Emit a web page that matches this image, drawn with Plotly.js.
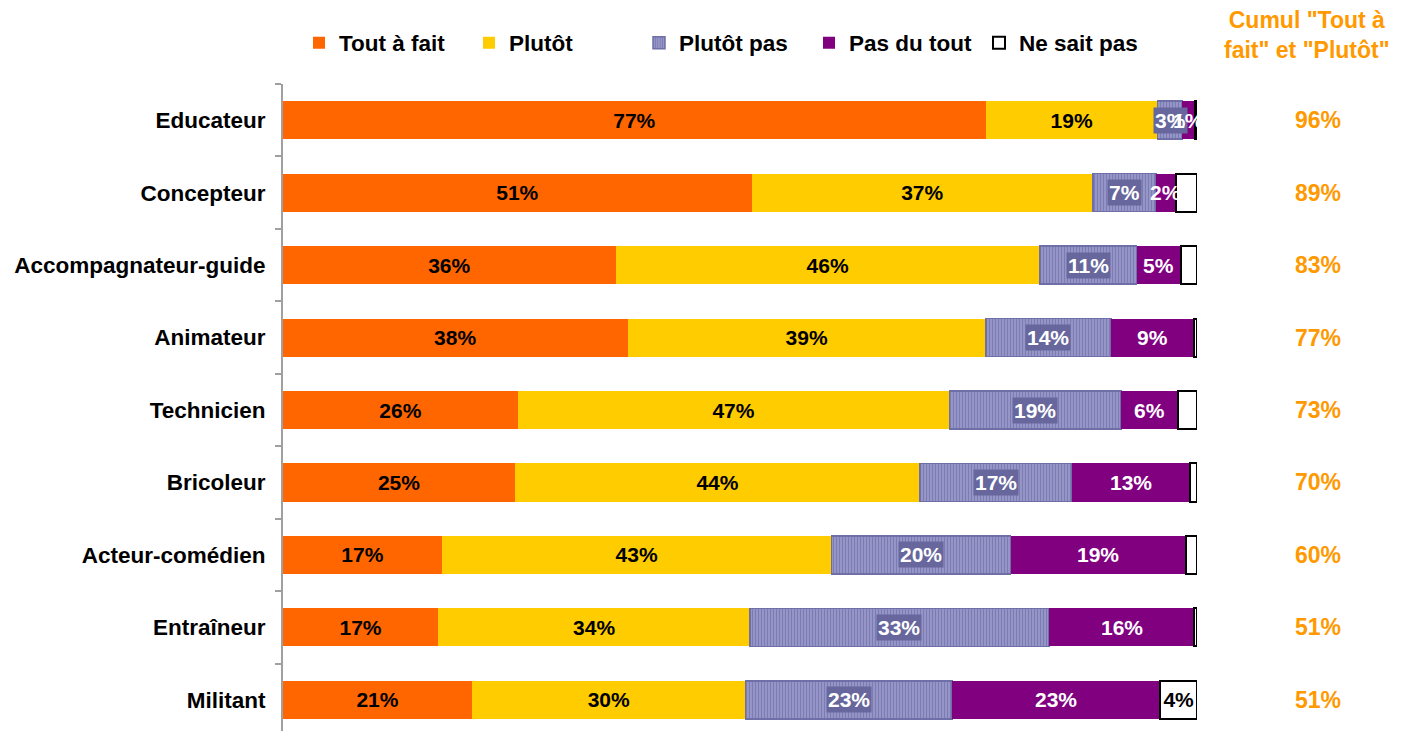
<!DOCTYPE html>
<html>
<head>
<meta charset="utf-8">
<script src="https://cdn.plot.ly/plotly-3.0.1.min.js"></script>
<style>html,body{margin:0;padding:0;background:#fff;}#chart{width:1408px;height:731px;}</style>
</head>
<body>
<div id="chart"></div>
<script>
const categories = ["Educateur","Concepteur","Accompagnateur-guide","Animateur","Technicien","Bricoleur","Acteur-comédien","Entraîneur","Militant"];
const seriesNames = ["Tout à fait","Plutôt","Plutôt pas","Pas du tout","Ne sait pas"];
const toutAFait  = [76.9, 51.3, 36.4, 37.7, 25.7, 25.4, 17.4, 17.0, 20.7];
const plutot     = [18.8, 37.3, 46.4, 39.2, 47.2, 44.3, 42.6, 34.1, 29.9];
const plutotPas  = [2.7, 6.9, 10.6, 13.7, 18.8, 16.6, 19.6, 32.7, 22.6];
const pasDuTout  = [1.4, 2.2, 4.8, 9.1, 6.2, 12.9, 19.2, 15.9, 22.8];
const neSaitPas  = [0.2, 2.3, 1.8, 0.3, 2.1, 0.8, 1.2, 0.3, 4.0];
const cumulTitle = 'Cumul "Tout à<br>fait" et "Plutôt"';

const FONT = '"Liberation Sans", Arial, sans-serif';
const pct = (v) => Math.round(v) + '%';
const label = (arr, min) => arr.map(v => v >= min ? pct(v) : '');
const blank = categories.map(() => '');

function barTrace(name, vals, color, textColor, text, extra) {
  return Object.assign({
    type: 'bar', orientation: 'h', name: name,
    y: categories, x: vals,
    text: text, textposition: 'inside', insidetextanchor: 'middle',
    constraintext: 'none', textangle: 0, cliponaxis: false,
    textfont: {family: FONT, size: 21, color: textColor, weight: 'bold'},
    marker: {color: color, line: {width: 0}},
    hoverinfo: 'x+y'
  }, extra || {});
}

const traces = [
  barTrace(seriesNames[0], toutAFait, '#FF6600', '#000', label(toutAFait, 1)),
  barTrace(seriesNames[1], plutot, '#FFCC00', '#000', label(plutot, 1)),
  barTrace(seriesNames[2], plutotPas, '#9090C2', '#fff', blank, {
    marker: {color: '#9090C2', line: {color: '#6F6FA8', width: 1.5},
             pattern: {shape: '|', fgcolor: '#7C7CB2', bgcolor: '#9595C7', size: 3, solidity: 0.35}}
  }),
  barTrace(seriesNames[3], pasDuTout, '#800080', '#fff', blank),
  barTrace(seriesNames[4], neSaitPas, '#FFFFFF', '#000', label(neSaitPas, 3.5), {
    marker: {color: '#FFFFFF', line: {color: '#000', width: 2}}
  })
];

const annotations = [];
// "Plutôt pas" labels on a dark box
categories.forEach((c, i) => {
  const start = toutAFait[i] + plutot[i];
  annotations.push({
    x: start + plutotPas[i] / 2, y: c, xref: 'x', yref: 'y',
    text: pct(plutotPas[i]), showarrow: false,
    font: {family: FONT, size: 21, color: '#fff', weight: 'bold'},
    bgcolor: '#67679D', borderpad: 1
  });
});
// "Pas du tout" labels (drawn after so they sit on top)
categories.forEach((c, i) => {
  const start = toutAFait[i] + plutot[i] + plutotPas[i];
  if (pasDuTout[i] >= 1) {
    annotations.push({
      x: start + pasDuTout[i] / 2, y: c, xref: 'x', yref: 'y',
      text: pct(pasDuTout[i]), showarrow: false,
      font: {family: FONT, size: 21, color: '#fff', weight: 'bold'}
    });
  }
});
// Cumul column
categories.forEach((c, i) => {
  annotations.push({
    x: (1318 - 283) / 914, y: c, xref: 'paper', yref: 'y',
    text: pct(toutAFait[i] + plutot[i]), showarrow: false, xanchor: 'center',
    font: {family: FONT, size: 23, color: '#FF9900', weight: 'bold'}
  });
});
annotations.push({
  x: (1307 - 283) / 914, y: (731 - 5) / 647, xref: 'paper', yref: 'paper',
  xanchor: 'center', yanchor: 'top', text: cumulTitle, showarrow: false,
  font: {family: FONT, size: 23, color: '#FF9900', weight: 'bold'}
});

const layout = {
  width: 1408, height: 731,
  margin: {l: 283, r: 211, t: 84, b: 0, pad: 0},
  paper_bgcolor: '#fff', plot_bgcolor: '#fff',
  barmode: 'stack', bargap: 0.475,
  font: {family: FONT, color: '#000'},
  showlegend: true,
  legend: {
    orientation: 'h', traceorder: 'normal',
    x: (299 - 283) / 914, xanchor: 'left',
    y: (731 - 43) / 647, yanchor: 'middle',
    entrywidth: 125, entrywidthmode: 'pixels',
    font: {family: FONT, size: 22.5, color: '#000', weight: 'bold'},
    bgcolor: 'rgba(0,0,0,0)'
  },
  xaxis: {range: [0, 100], visible: false, fixedrange: true},
  yaxis: {
    type: 'category', range: [8.43, -0.5], automargin: false,
    showline: true, linecolor: '#A0A0A0', linewidth: 2,
    ticks: 'outside', tickson: 'boundaries', ticklen: 6, tickcolor: '#A0A0A0', tickwidth: 2,
    ticklabelstandoff: 11,
    tickfont: {family: FONT, size: 22.5, color: '#000', weight: 'bold'},
    showgrid: false, zeroline: false, fixedrange: true
  },
  annotations: annotations
};

Plotly.newPlot('chart', traces, layout, {displayModeBar: false, staticPlot: true});
</script>
</body>
</html>
